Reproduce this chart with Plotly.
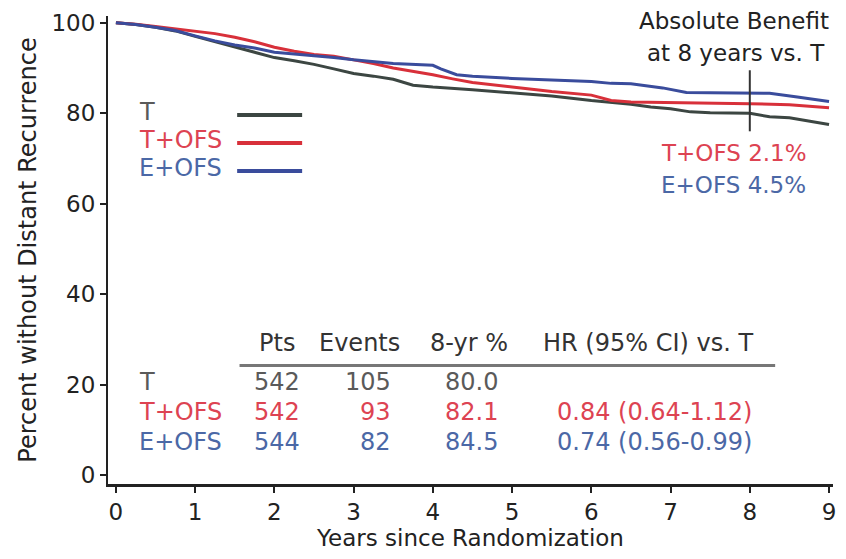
import plotly.graph_objects as go

# ---------------- data ----------------
years_T = [0, 0.25, 0.5, 0.75, 1.0, 1.25, 1.5, 1.75, 2.0, 2.25, 2.5, 2.75, 3.0, 3.25, 3.5, 3.75,
           4.0, 4.5, 5.0, 5.5, 6.0, 6.5, 6.75, 7.0, 7.25, 7.5, 8.0, 8.25, 8.5, 8.75, 9.0]
surv_T = [100, 99.6, 99.0, 98.2, 97.0, 95.8, 94.6, 93.5, 92.3, 91.6, 90.8, 89.8, 88.8, 88.2, 87.5, 86.2,
          85.8, 85.2, 84.5, 83.8, 82.8, 82.0, 81.4, 81.0, 80.3, 80.1, 80.0, 79.2, 79.0, 78.3, 77.5]

years_TOFS = [0, 0.25, 0.5, 0.75, 1.0, 1.25, 1.5, 1.75, 2.0, 2.25, 2.5, 2.75, 3.0, 3.25, 3.5, 3.75,
              4.0, 4.25, 4.5, 5.0, 5.5, 6.0, 6.25, 6.5, 7.0, 7.5, 8.0, 8.5, 8.75, 9.0]
surv_TOFS = [100, 99.7, 99.2, 98.7, 98.2, 97.6, 96.8, 95.8, 94.6, 93.7, 93.0, 92.6, 91.8, 91.0, 90.0, 89.3,
             88.5, 87.6, 86.8, 85.8, 84.8, 84.0, 82.8, 82.5, 82.4, 82.3, 82.1, 81.9, 81.5, 81.2]

years_EOFS = [0, 0.25, 0.5, 0.75, 1.0, 1.25, 1.5, 1.75, 2.0, 2.25, 2.5, 2.75, 3.0, 3.5, 4.0, 4.1, 4.3,
              4.5, 5.0, 5.5, 6.0, 6.25, 6.5, 6.9, 7.2, 7.5, 8.0, 8.25, 8.6, 8.9, 9.0]
surv_EOFS = [100, 99.6, 99.0, 98.3, 97.1, 96.0, 95.1, 94.4, 93.5, 93.1, 92.8, 92.3, 91.8, 91.0, 90.6, 89.8, 88.5,
             88.2, 87.7, 87.3, 87.0, 86.6, 86.5, 85.6, 84.6, 84.5, 84.5, 84.4, 83.6, 82.8, 82.6]

groups = ["T", "T+OFS", "E+OFS"]
line_colors = ["#3c4642", "#d8303a", "#3a4c9c"]
text_colors = ["#5a5a5a", "#dd4352", "#4b68a6"]

table_header = ["Pts", "Events", "8-yr %", "HR (95% CI) vs. T"]
pts = ["542", "542", "544"]
events = ["105", "93", "82"]
eight_yr = ["80.0", "82.1", "84.5"]
hr = ["", "0.84 (0.64-1.12)", "0.74 (0.56-0.99)"]

benefit_title = ["Absolute Benefit", "at 8 years vs. T"]
benefit_text = ["T+OFS 2.1%", "E+OFS 4.5%"]

x_ticks = list(range(0, 10))
y_ticks = [0, 20, 40, 60, 80, 100]

FONT = "DejaVu Sans, Liberation Sans, Arial, sans-serif"

fig = go.Figure()
series = [(years_T, surv_T), (years_TOFS, surv_TOFS), (years_EOFS, surv_EOFS)]
for (xs, ys), name, col in zip(series, groups, line_colors):
    fig.add_trace(go.Scatter(x=xs, y=ys, mode="lines", name=name,
                             line=dict(color=col, width=3), showlegend=False))

annotations = []
shapes = []

# manual legend (text left, line right)
leg_y = [79.6, 73.4, 67.2]
for name, tc, lc, yy in zip(groups, text_colors, line_colors, leg_y):
    annotations.append(dict(x=0.26, y=yy + 0.6, xref="x", yref="y", text=name, showarrow=False,
                            xanchor="left", yanchor="middle",
                            font=dict(family=FONT, size=24, color=tc)))
    shapes.append(dict(type="line", xref="x", yref="y", x0=1.53, x1=2.35, y0=yy, y1=yy,
                       line=dict(color=lc, width=4)))

# benefit annotation
annotations.append(dict(x=7.8, y=100.3, xref="x", yref="y", text=benefit_title[0], showarrow=False,
                        xanchor="center", yanchor="middle", font=dict(family=FONT, size=23, color="#222")))
annotations.append(dict(x=7.83, y=93.4, xref="x", yref="y", text=benefit_title[1], showarrow=False,
                        xanchor="center", yanchor="middle", font=dict(family=FONT, size=23, color="#222")))
shapes.append(dict(type="line", xref="x", yref="y", x0=8, x1=8, y0=76, y1=89.5,
                   line=dict(color="#333", width=2)))
for txt, col, yy in zip(benefit_text, text_colors[1:], [71.3, 64.1]):
    annotations.append(dict(x=7.8, y=yy, xref="x", yref="y", text=txt, showarrow=False,
                            xanchor="center", yanchor="middle", font=dict(family=FONT, size=23, color=col)))

# table
hdr_x = [2.03, 3.08, 4.45, 6.72]
for h, hx in zip(table_header, hdr_x):
    annotations.append(dict(x=hx, y=29.2, xref="x", yref="y", text=h, showarrow=False,
                            xanchor="center", yanchor="middle", font=dict(family=FONT, size=24, color="#333")))
shapes.append(dict(type="line", xref="x", yref="y", x0=1.56, x1=8.32, y0=24.2, y1=24.2,
                   line=dict(color="#777", width=3)))
row_y = [20.6, 13.9, 7.2]
for i in range(3):
    c = text_colors[i]
    yy = row_y[i]
    f = dict(family=FONT, size=24, color=c)
    annotations.append(dict(x=0.26, y=yy, xref="x", yref="y", text=groups[i], showarrow=False,
                            xanchor="left", yanchor="middle", font=f))
    annotations.append(dict(x=2.03, y=yy, xref="x", yref="y", text=pts[i], showarrow=False,
                            xanchor="center", yanchor="middle", font=f))
    annotations.append(dict(x=3.5, y=yy, xref="x", yref="y", text=events[i], showarrow=False,
                            xanchor="right", yanchor="middle", font=f))
    annotations.append(dict(x=4.85, y=yy, xref="x", yref="y", text=eight_yr[i], showarrow=False,
                            xanchor="right", yanchor="middle", font=f))
    if hr[i]:
        annotations.append(dict(x=8.05, y=yy, xref="x", yref="y", text=hr[i], showarrow=False,
                                xanchor="right", yanchor="middle", font=f))

fig.update_layout(
    width=846, height=559,
    margin=dict(l=108, r=10, t=16, b=75),
    paper_bgcolor="white", plot_bgcolor="white",
    font=dict(family=FONT, color="#222"),
    annotations=annotations, shapes=shapes,
    xaxis=dict(range=[-0.1, 9.05], tickvals=x_ticks, showgrid=False, zeroline=False,
               showline=True, linecolor="#222", linewidth=2.5,
               ticks="outside", ticklen=6, tickwidth=2, tickcolor="#222",
               tickfont=dict(family=FONT, size=23, color="#222"),
               title=dict(text="Years since Randomization", font=dict(family=FONT, size=23, color="#222"),
                          standoff=6)),
    yaxis=dict(range=[-2, 101.5], tickvals=y_ticks, showgrid=False, zeroline=False,
               showline=True, linecolor="#222", linewidth=2,
               ticks="outside", ticklen=6, tickwidth=2, tickcolor="#222",
               tickfont=dict(family=FONT, size=23, color="#222"),
               title=dict(text="Percent without Distant Recurrence",
                          font=dict(family=FONT, size=24, color="#222"), standoff=8)),
)

fig.write_html("out.html")
